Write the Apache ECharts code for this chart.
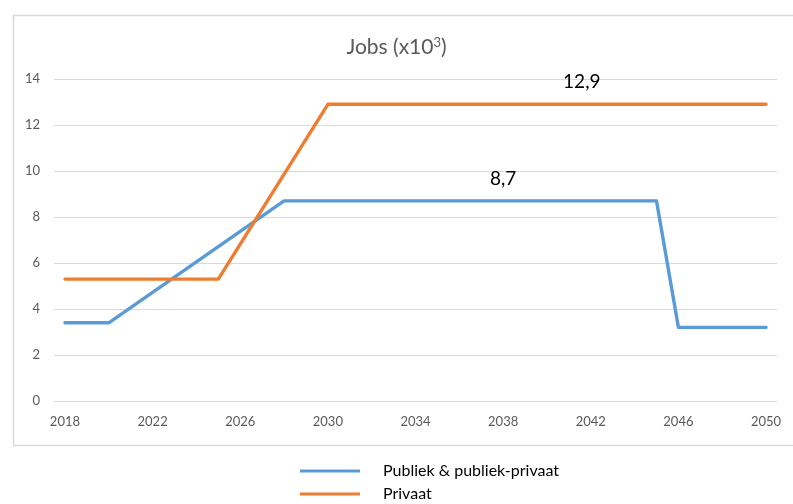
<!DOCTYPE html>
<html>
<head>
<meta charset="utf-8">
<script src="https://cdn.jsdelivr.net/npm/echarts@6/dist/echarts.min.js"></script>
<style>html,body{margin:0;padding:0;background:#fff}#c{width:793px;height:504px}</style>
</head>
<body>
<div id="c"></div>
<script>
var years = [];
for (var y = 2018; y <= 2050; y++) years.push(String(y));
var blueName = 'Publiek & publiek-privaat';
var blueYears = ['2018', '2020', '2028', '2045', '2046', '2050'];
var blueValues = [3.4, 3.4, 8.7, 8.7, 3.2, 3.2];
var orangeName = 'Privaat';
var orangeYears = ['2018', '2025', '2030', '2050'];
var orangeValues = [5.3, 5.3, 12.9, 12.9];
var yTicks = [0, 2, 4, 6, 8, 10, 12, 14];
var blueLabel = {year: '2038', value: 8.7};
var orangeLabel = {year: '2042', value: 12.9};

function pairs(xs, vs) { return xs.map(function (x, i) { return [x, vs[i]]; }); }
function fmt(v) { return String(v).replace('.', ','); }

var FONT = 'Lato, "Open Sans", sans-serif';
var chart = echarts.init(document.getElementById('c'), null, {renderer: 'canvas'});
chart.setOption({
  animation: false,
  backgroundColor: '#fff',
  graphic: [{
    type: 'rect', left: 11, top: 13, silent: true,
    shape: {width: 800, height: 430},
    style: {fill: 'none', stroke: '#d9d9d9', lineWidth: 1.5}
  }],
  title: {
    text: 'Jobs (x10{sup|3})',
    left: 'center', top: 31,
    textStyle: {
      fontFamily: FONT, fontSize: 21, fontWeight: 'normal', color: '#595959',
      rich: {sup: {fontFamily: FONT, fontSize: 13, color: '#595959', verticalAlign: 'top', padding: [0, 0, 10, 0]}}
    }
  },
  grid: {left: 54, right: 16, top: 79, bottom: 103},
  xAxis: {
    type: 'category', data: years, boundaryGap: true,
    axisLine: {show: true, lineStyle: {color: '#d9d9d9', width: 1}},
    axisTick: {show: false},
    axisLabel: {interval: 3, color: '#595959', fontFamily: FONT, fontSize: 13, margin: 14}
  },
  yAxis: {
    type: 'value', min: yTicks[0], max: yTicks[yTicks.length - 1], interval: 2,
    axisLine: {show: false}, axisTick: {show: false},
    axisLabel: {color: '#595959', fontFamily: FONT, fontSize: 13, margin: 14},
    splitLine: {lineStyle: {color: '#d9d9d9', width: 1}}
  },
  legend: {
    orient: 'vertical', left: 300, top: 463, padding: 0,
    itemWidth: 60, itemHeight: 3, itemGap: 7,
    icon: 'rect',
    textStyle: {fontFamily: FONT, fontSize: 16, lineHeight: 16, color: '#000', padding: [0, 0, 0, 18]},
    data: [blueName, orangeName]
  },
  series: [{
    name: blueName, type: 'line', data: pairs(blueYears, blueValues),
    showSymbol: false, symbol: 'none',
    lineStyle: {color: '#5B9BD5', width: 3.4, cap: 'round', join: 'round'},
    itemStyle: {color: '#5B9BD5'},
    markPoint: {
      symbol: 'circle', symbolSize: 0,
      label: {show: true, position: 'inside', offset: [0, -22], color: '#000', fontFamily: FONT, fontSize: 19,
        formatter: function (p) { return fmt(p.value); }},
      data: [{coord: [blueLabel.year, blueLabel.value], value: blueLabel.value}]
    }
  }, {
    name: orangeName, type: 'line', data: pairs(orangeYears, orangeValues),
    showSymbol: false, symbol: 'none',
    lineStyle: {color: '#ED7D31', width: 3.4, cap: 'round', join: 'round'},
    itemStyle: {color: '#ED7D31'},
    markPoint: {
      symbol: 'circle', symbolSize: 0,
      label: {show: true, position: 'inside', offset: [-9, -22], color: '#000', fontFamily: FONT, fontSize: 19,
        formatter: function (p) { return fmt(p.value); }},
      data: [{coord: [orangeLabel.year, orangeLabel.value], value: orangeLabel.value}]
    }
  }]
});
</script>
</body>
</html>
